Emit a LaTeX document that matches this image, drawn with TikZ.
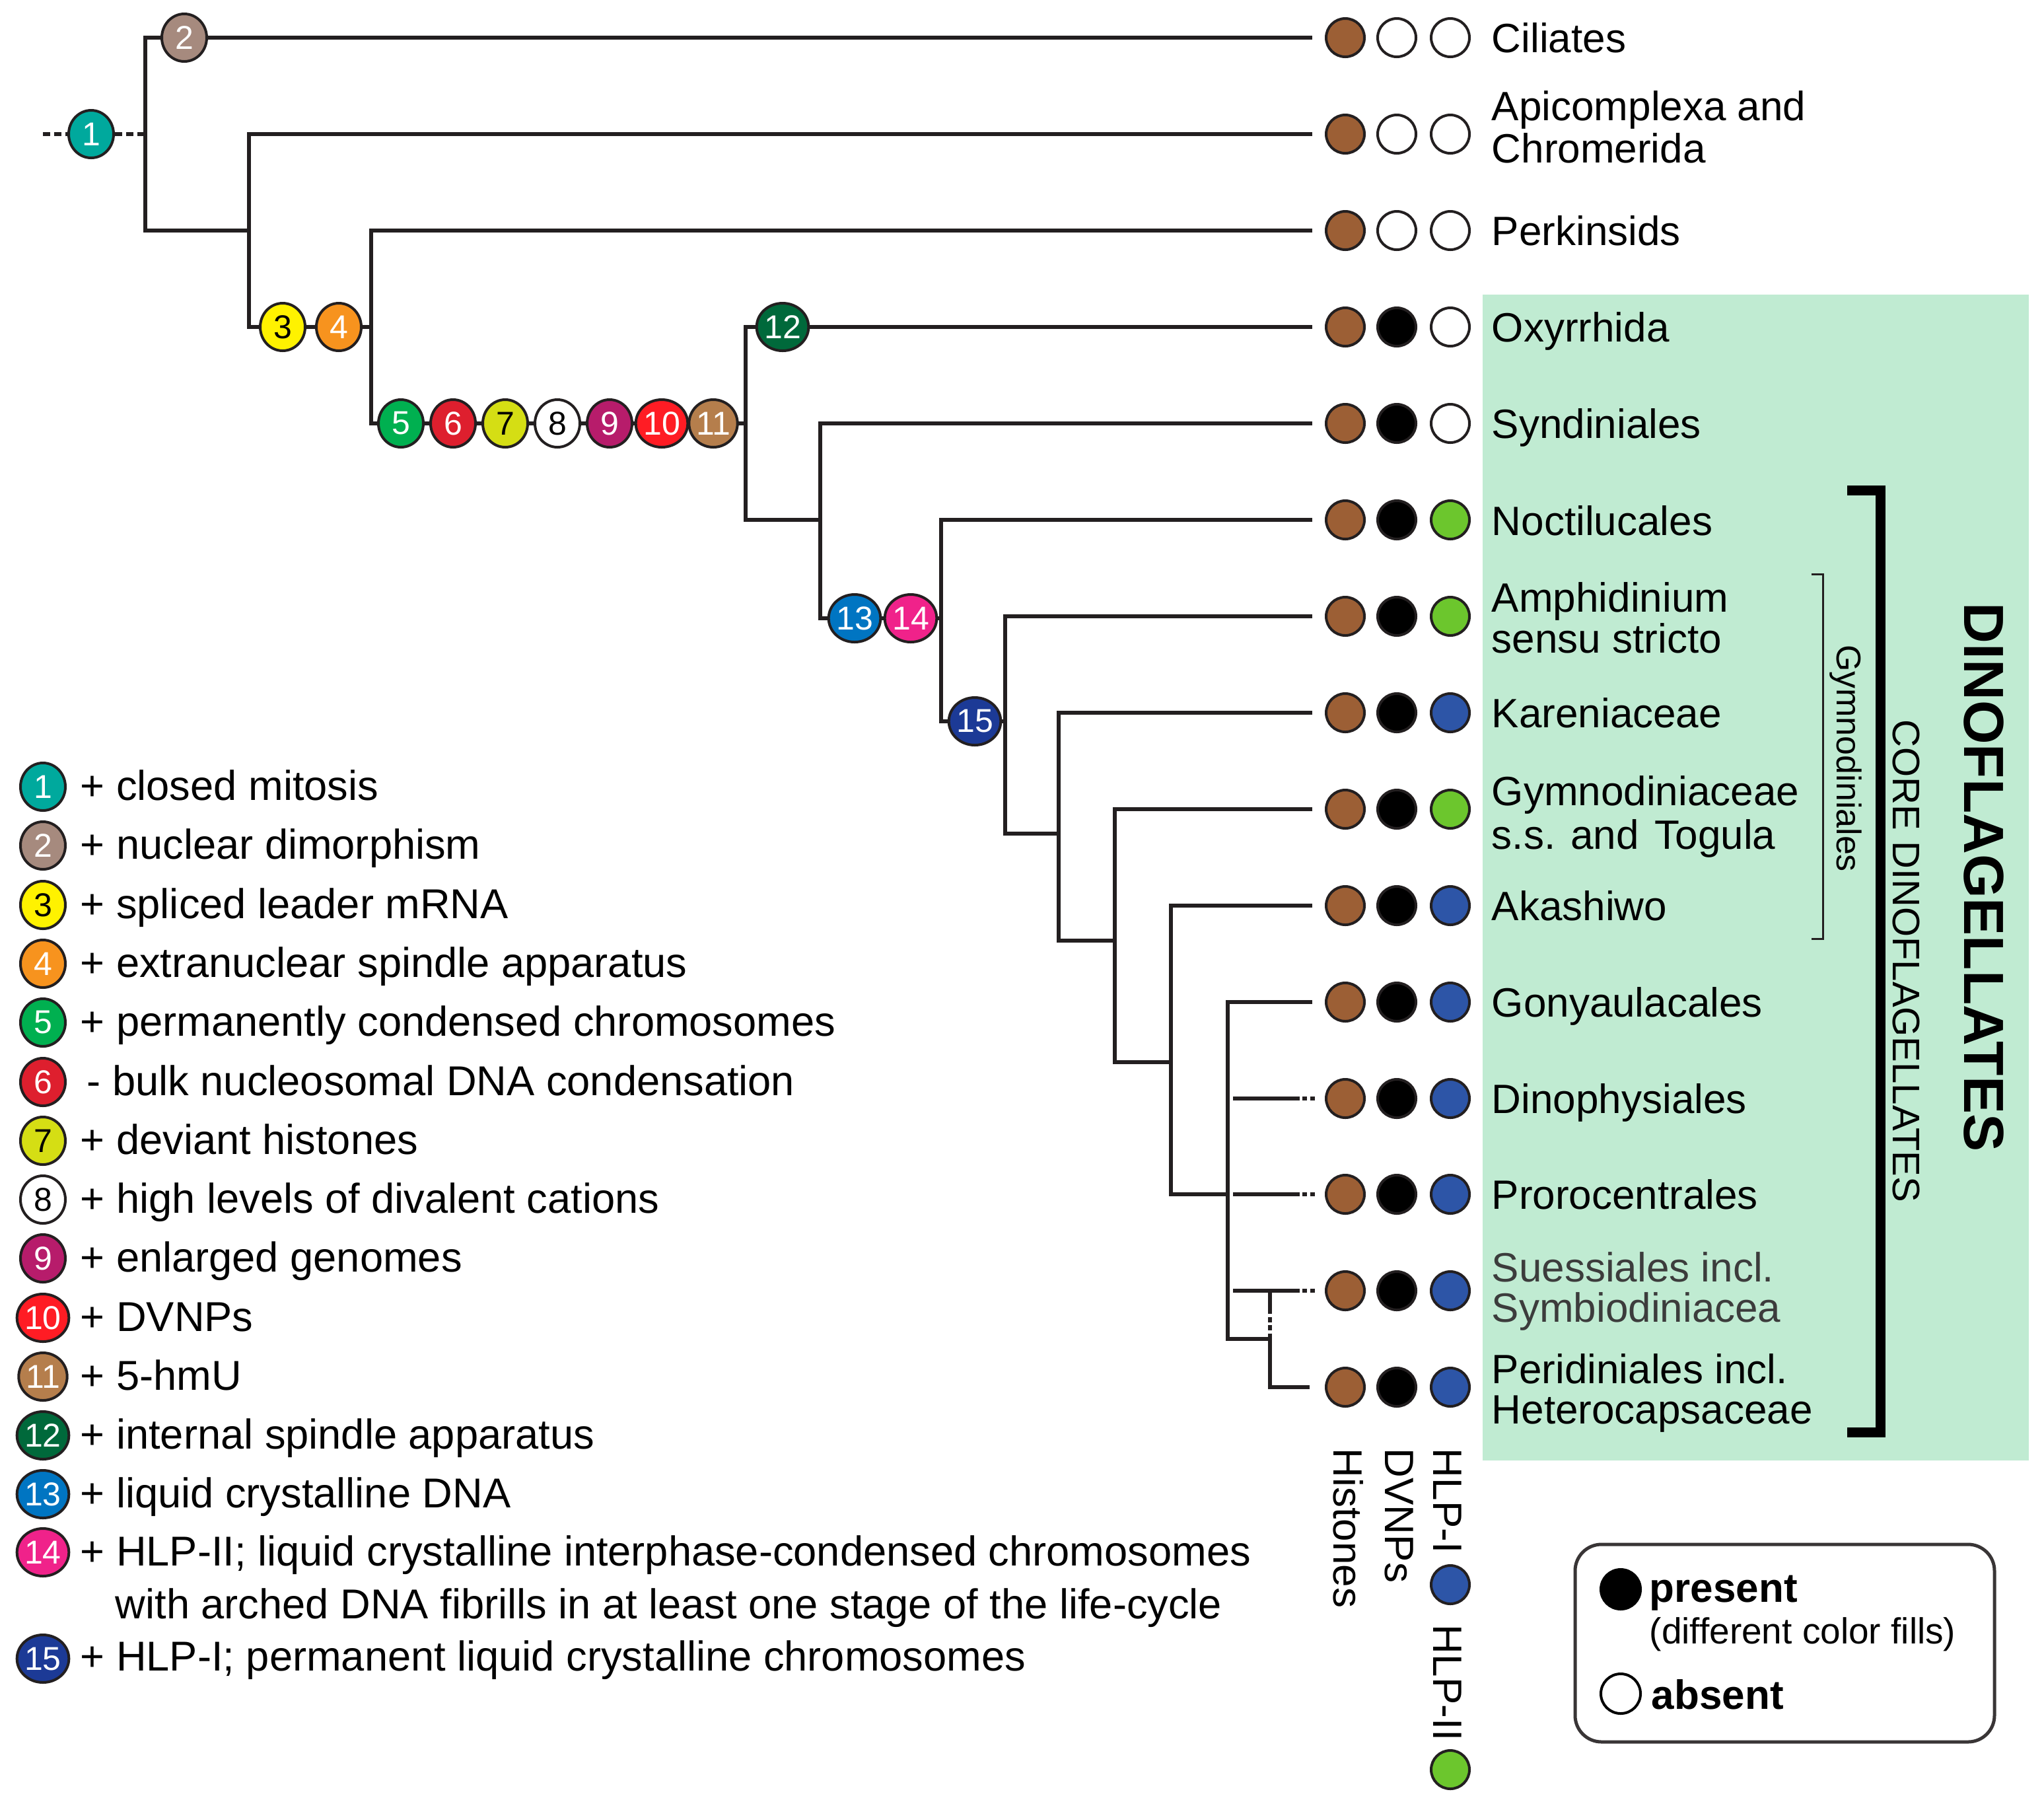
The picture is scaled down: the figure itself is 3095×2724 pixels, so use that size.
\documentclass[tikz,border=0pt]{standalone}
\usepackage{fontspec}
\usetikzlibrary{shapes.geometric}
\setmainfont{Liberation Sans}
\definecolor{linec}{HTML}{231F20}
\definecolor{c1}{HTML}{00A99D}
\definecolor{c2}{HTML}{A68A7E}
\definecolor{c3}{HTML}{FFF200}
\definecolor{c4}{HTML}{F7931E}
\definecolor{c5}{HTML}{00B050}
\definecolor{c6}{HTML}{DE1F2E}
\definecolor{c7}{HTML}{D5DE14}
\definecolor{c8}{HTML}{FFFFFF}
\definecolor{c9}{HTML}{B71C6B}
\definecolor{c10}{HTML}{FF1C24}
\definecolor{c11}{HTML}{B57E4C}
\definecolor{c12}{HTML}{00693B}
\definecolor{c13}{HTML}{0075C2}
\definecolor{c14}{HTML}{F0228A}
\definecolor{c15}{HTML}{1C3A96}
\definecolor{tbrown}{HTML}{9C5F35}
\definecolor{hblue}{HTML}{2D55A7}
\definecolor{hgreen}{HTML}{6CC62D}
\definecolor{boxgreen}{HTML}{C0EBD2}
\definecolor{graytext}{HTML}{3C3C3C}
\newcommand\labfont{\fontsize{15.5pt}{18pt}\selectfont}
\newcommand\legfont{\fontsize{15.8pt}{19pt}\selectfont}
\newcommand\mkfont{\fontsize{12.5pt}{14pt}\selectfont}
\begin{document}
\begin{tikzpicture}[x=0.25pt,y=-0.25pt,
  br/.style={draw=linec, line width=1.6pt, line join=miter, line cap=butt},
  dotbr/.style={br, dash pattern=on 25.25pt off 1pt on 1.75pt off 1.25pt on 1.75pt off 5pt},
  mk/.style={ellipse, draw=linec, line width=1pt, minimum width=17pt, minimum height=18pt, inner sep=0pt, font=\mkfont, text=white},
  tr/.style={circle, draw=linec, line width=1pt, minimum size=14.5pt, inner sep=0pt},
  lab/.style={anchor=base west, inner sep=0pt, font=\labfont},
  leg/.style={anchor=base west, inner sep=0pt, font=\legfont},
  vlab/.style={rotate=-90, anchor=base west, inner sep=0pt, font=\labfont}]
\useasboundingbox (0,0) rectangle (3095,2724);
% green background
\fill[boxgreen] (2245,446) rectangle (3072,2211);

% tips
\coordinate (t0) at (1987,57);
\coordinate (t1) at (1987,203);
\coordinate (t2) at (1987,349);
\coordinate (t3) at (1987,495);
\coordinate (t4) at (1987,641);
\coordinate (t5) at (1987,787);
\coordinate (t6) at (1987,933);
\coordinate (t7) at (1987,1079);
\coordinate (t8) at (1987,1225);
\coordinate (t9) at (1987,1371);
\coordinate (t10) at (1987,1517);
\coordinate (t11) at (1991,1663);
\coordinate (t12) at (1991,1808);
\coordinate (t13) at (1991,1954);
\coordinate (t14) at (1983,2100);
\coordinate (p11) at (1867,1663);
\coordinate (p12) at (1867,1808);
\coordinate (p13) at (1867,1954);
\coordinate (s13) at (1923,1954);
% internal nodes
\coordinate (root) at (65,203);
\coordinate (N1) at (220,203);
\coordinate (N2) at (377,349);
\coordinate (N3) at (562,495);
\coordinate (N4) at (1129,641);
\coordinate (N5) at (1242,787);
\coordinate (N6) at (1425,936);
\coordinate (N7) at (1522,1092);
\coordinate (N8) at (1603,1262);
\coordinate (N9) at (1688,1424);
\coordinate (N10) at (1773,1608);
\coordinate (N11) at (1859,1808);
\coordinate (N12) at (1923,2027);

\draw[br] (t0) -| (N1) |- (N2);
\draw[br] (t1) -| (N2) |- (N3);
\draw[br] (t2) -| (N3) |- (N4);
\draw[br] (t3) -| (N4) |- (N5);
\draw[br] (t4) -| (N5) |- (N6);
\draw[br] (t5) -| (N6) |- (N7);
\draw[br] (t6) -| (N7) |- (N8);
\draw[br] (t7) -| (N8) |- (N9);
\draw[br] (t8) -| (N9) |- (N10);
\draw[br] (t9) -| (N10) |- (N11);
\draw[br] (t10) -| (N11) |- (N12);
\draw[dotbr] (p11) -- (t11);
\draw[dotbr] (p12) -- (t12);
\draw[dotbr] (p13) -- (t13);
\draw[br, dash pattern=on 8.75pt off 1.25pt on 1.875pt off 1.125pt on 1.875pt off 1.25pt on 60pt off 0pt] (s13) |- (t14);

% markers on branches
\node[mk, fill=c1] (m1) at (138,203) {1};
\draw[br, dash pattern=on 2.75pt off 1.5pt] (root) -- (m1.west);
\draw[br, dash pattern=on 2.75pt off 1.5pt] (m1.east) -- (N1);
\node[mk, fill=c2] (m2) at (279,57) {2};
\node[mk, fill=c3, text=black] (m3) at (428,495) {3};
\node[mk, fill=c4] (m4) at (513,495) {4};
\node[mk, fill=c5] (m5) at (607,641) {5};
\node[mk, fill=c6] (m6) at (686,641) {6};
\node[mk, fill=c7, text=black] (m7) at (765,641) {7};
\node[mk, fill=c8, text=black] (m8) at (844,641) {8};
\node[mk, fill=c9] (m9) at (923,641) {9};
\node[mk, fill=c10] (m10) at (1002,641) {10};
\node[mk, fill=c11] (m11) at (1080,641) {11};
\node[mk, fill=c12] (m12) at (1185,495) {12};
\node[mk, fill=c13] (m13) at (1294,936) {13};
\node[mk, fill=c14] (m14) at (1379,936) {14};
\node[mk, fill=c15] (m15) at (1476,1092) {15};

% trait circles
\foreach \r/\yy/\cb/\cc in {0/57/white/white, 1/203/white/white, 2/349/white/white,
  3/495/black/white, 4/641/black/white, 5/787/black/hgreen, 6/933/black/hgreen,
  7/1079/black/hblue, 8/1225/black/hgreen, 9/1371/black/hblue, 10/1517/black/hblue,
  11/1663/black/hblue, 12/1808/black/hblue, 13/1954/black/hblue, 14/2100/black/hblue}{
  \node[tr, fill=tbrown] (H\r) at (2037,\yy) {};
  \node[tr, fill=\cb] (D\r) at (2115,\yy) {};
  \node[tr, fill=\cc] (P\r) at (2196,\yy) {};
}

% taxon labels
\node[lab] (L0) at (2258,79) {Ciliates};
\node[lab] (L1a) at (2258,182) {Apicomplexa and};
\node[lab] (L1b) at (2258,246) {Chromerida};
\node[lab] (L2) at (2258,371) {Perkinsids};
\node[lab] (L3) at (2258,517) {Oxyrrhida};
\node[lab] (L4) at (2258,663) {Syndiniales};
\node[lab] (L5) at (2258,810) {Noctilucales};
\node[lab] (L6a) at (2258,926) {Amphidinium};
\node[lab] (L6b) at (2258,988) {sensu stricto};
\node[lab] (L7) at (2258,1101) {Kareniaceae};
\node[lab] (L8a) at (2258,1219) {Gymnodiniaceae};
\node[lab] (L8b) at (2258,1285) {s.s. and\hspace{6pt}Togula};
\node[lab] (L9) at (2258,1393) {Akashiwo};
\node[lab] (L10) at (2258,1539) {Gonyaulacales};
\node[lab] (L11) at (2258,1685) {Dinophysiales};
\node[lab] (L12) at (2258,1830) {Prorocentrales};
\node[lab, text=graytext] (L13a) at (2258,1940) {Suessiales incl.};
\node[lab, text=graytext] (L13b) at (2258,2001) {Symbiodiniacea};
\node[lab] (L14a) at (2258,2094) {Peridiniales incl.};
\node[lab] (L14b) at (2258,2155) {Heterocapsaceae};

% brackets
\coordinate (gbt) at (2743,869);
\coordinate (gbb) at (2743,1421);
\draw[draw=linec, line width=0.75pt, line join=miter] (gbt) -- ++(17,0) |- (gbb);
\coordinate (cbt) at (2797,742);
\coordinate (cbb) at (2797,2168);
\draw[draw=black, line width=3.75pt, line join=miter] (cbt) -- ++(50,0) |- (cbb);
\node[rotate=-90, anchor=base, inner sep=0pt, font=\fontsize{13pt}{15pt}\selectfont] (gym) at (2781,1148) {Gymnodiniales};
\node[rotate=-90, anchor=base, inner sep=0pt, font=\fontsize{14.5pt}{17pt}\selectfont] (core) at (2866,1455) {CORE DINOFLAGELLATES};
\node[rotate=-90, anchor=base, inner sep=0pt, font=\fontsize{21.4pt}{25pt}\selectfont\bfseries] (dino) at (2974,1328) {DINOFLAGELLATES};

% column headers
\node[vlab] (cHis) at (2019,2192) {Histones};
\node[vlab] (cDV) at (2097,2192) {DVNPs};
\node[vlab] (cH1) at (2170,2192) {HLP-I};
\node[tr, fill=hblue] (cB) at (2196,2399) {};
\node[vlab] (cH2) at (2170,2459) {HLP-II};
\node[tr, fill=hgreen] (cG) at (2196,2679) {};

% key box
\node[draw=linec!90, line width=1.25pt, rounded corners=10pt, minimum width=158.75pt, minimum height=74.75pt, inner sep=0pt] (keybox) at (2702.5,2487.5) {};
\node[circle, fill=black, draw=black, line width=1pt, minimum size=15pt, inner sep=0pt] (kP) at (2454,2406) {};
\node[leg, font=\labfont\bfseries] (kPt) at (2497,2425) {present};
\node[leg, font=\fontsize{13.75pt}{16pt}\selectfont] (kPd) at (2497,2488) {(different color fills)};
\node[circle, fill=white, draw=black, line width=1pt, minimum size=15pt, inner sep=0pt] (kA) at (2454,2564) {};
\node[leg, font=\labfont\bfseries] (kAt) at (2500,2587) {absent};

% legend
\foreach \i/\yy/\col/\tc in {1/1191/c1/white, 2/1280/c2/white, 3/1370/c3/black, 4/1459/c4/white,
  5/1548/c5/white, 6/1638/c6/white, 7/1727/c7/black, 8/1816/c8/black, 9/1905/c9/white,
  10/1995/c10/white, 11/2084/c11/white, 12/2173/c12/white, 13/2262/c13/white,
  14/2350/c14/white, 15/2511/c15/white}{
  \node[mk, fill=\col, text=\tc] (k\i) at (65,\yy) {\i};
}
\node[leg] (e1) at (121,1211) {+ closed mitosis};
\node[leg] (e2) at (121,1300) {+ nuclear dimorphism};
\node[leg] (e3) at (121,1390) {+ spliced leader mRNA};
\node[leg] (e4) at (121,1479) {+ extranuclear spindle apparatus};
\node[leg] (e5) at (121,1568) {+ permanently condensed chromosomes};
\node[leg] (e6) at (131,1658) {- bulk nucleosomal DNA condensation};
\node[leg] (e7) at (121,1747) {+ deviant histones};
\node[leg] (e8) at (121,1836) {+ high levels of divalent cations};
\node[leg] (e9) at (121,1925) {+ enlarged genomes};
\node[leg] (e10) at (121,2015) {+ DVNPs};
\node[leg] (e11) at (121,2104) {+ 5-hmU};
\node[leg] (e12) at (121,2193) {+ internal spindle apparatus};
\node[leg] (e13) at (121,2282) {+ liquid crystalline DNA};
\node[leg] (e14) at (121,2370) {+ HLP-II; liquid crystalline interphase-condensed chromosomes};
\node[leg] (e14b) at (174,2450) {with arched DNA fibrills in at least one stage of the life-cycle};
\node[leg] (e15) at (121,2529) {+ HLP-I; permanent liquid crystalline chromosomes};
\end{tikzpicture}
\end{document}
